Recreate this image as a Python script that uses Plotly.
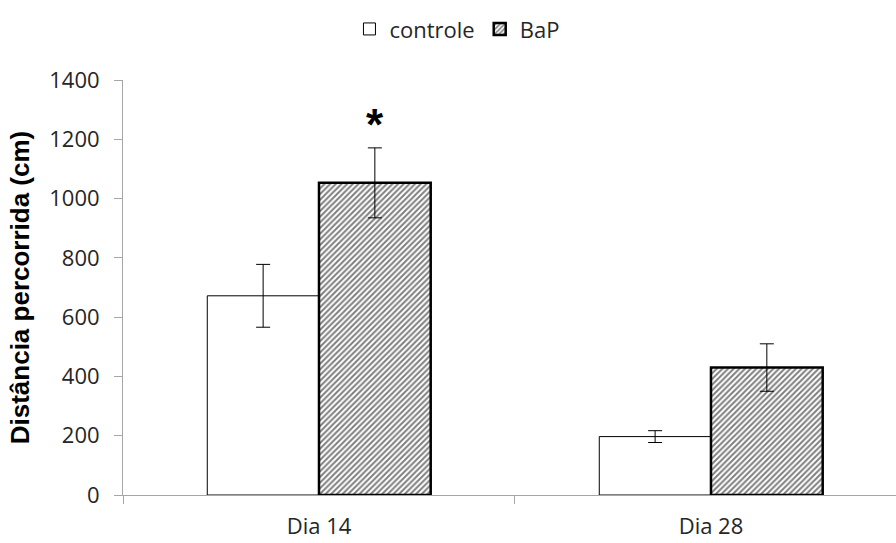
import plotly.graph_objects as go

# Distance travelled per group and time point
dias = ["Dia 14", "Dia 28"]
controle = [672, 197]
controle_err = [106, 20]
bap = [1053, 430]
bap_err = [118, 80]
y_ticks = [0, 200, 400, 600, 800, 1000, 1200, 1400]

TEXT = "#262626"
AXIS = "#a6a6a6"

fig = go.Figure()

fig.add_trace(go.Bar(
    name="controle", x=dias, y=controle,
    marker=dict(color="white", line=dict(color="black", width=1)),
    error_y=dict(type="data", array=controle_err, color="black", thickness=1, width=7),
))

fig.add_trace(go.Bar(
    name="BaP", x=dias, y=bap,
    marker=dict(
        color="white",
        line=dict(color="black", width=2.5),
        pattern=dict(shape="/", fgcolor="black", bgcolor="white", size=4, solidity=0.5),
    ),
    error_y=dict(type="data", array=bap_err, color="black", thickness=1, width=7),
))

# significance marker above the BaP bar on day 14
fig.add_annotation(
    x=dias[0], y=bap[0] + bap_err[0], xshift=56, yshift=23,
    text="<b>*</b>", showarrow=False,
    font=dict(family="Liberation Sans", size=44, color="black"),
)

fig.update_layout(
    width=896, height=543,
    margin=dict(l=123, r=0, t=80, b=48),
    paper_bgcolor="white", plot_bgcolor="white",
    barmode="group", bargap=0.43, bargroupgap=0,
    font=dict(family="Open Sans", size=22, color=TEXT),
    legend=dict(
        orientation="h", xref="container", yref="container",
        x=0.51, xanchor="center", y=0.985, yanchor="top",
        font=dict(family="Open Sans", size=22, color=TEXT),
        itemwidth=30, traceorder="normal",
    ),
    showlegend=True,
)

fig.update_xaxes(
    range=[-0.5, 1.472],
    showline=True, linecolor=AXIS, linewidth=1,
    ticks="outside", tickson="boundaries", ticklen=8, tickcolor=AXIS,
    showgrid=False, zeroline=False,
    ticklabelstandoff=12,
    tickfont=dict(family="Open Sans", size=22, color=TEXT),
)

fig.update_yaxes(
    range=[0, 1400], tickvals=y_ticks,
    showline=True, linecolor=AXIS, linewidth=1,
    ticks="outside", ticklen=8, tickcolor=AXIS,
    showgrid=False, zeroline=False,
    ticklabelstandoff=10,
    tickfont=dict(family="Open Sans", size=22, color=TEXT),
    title=dict(
        text="<b>Distância percorrida (cm)</b>",
        font=dict(family="Liberation Sans", size=26, color="black"),
        standoff=12,
    ),
    automargin=False,
)

fig.write_html("out.html")
